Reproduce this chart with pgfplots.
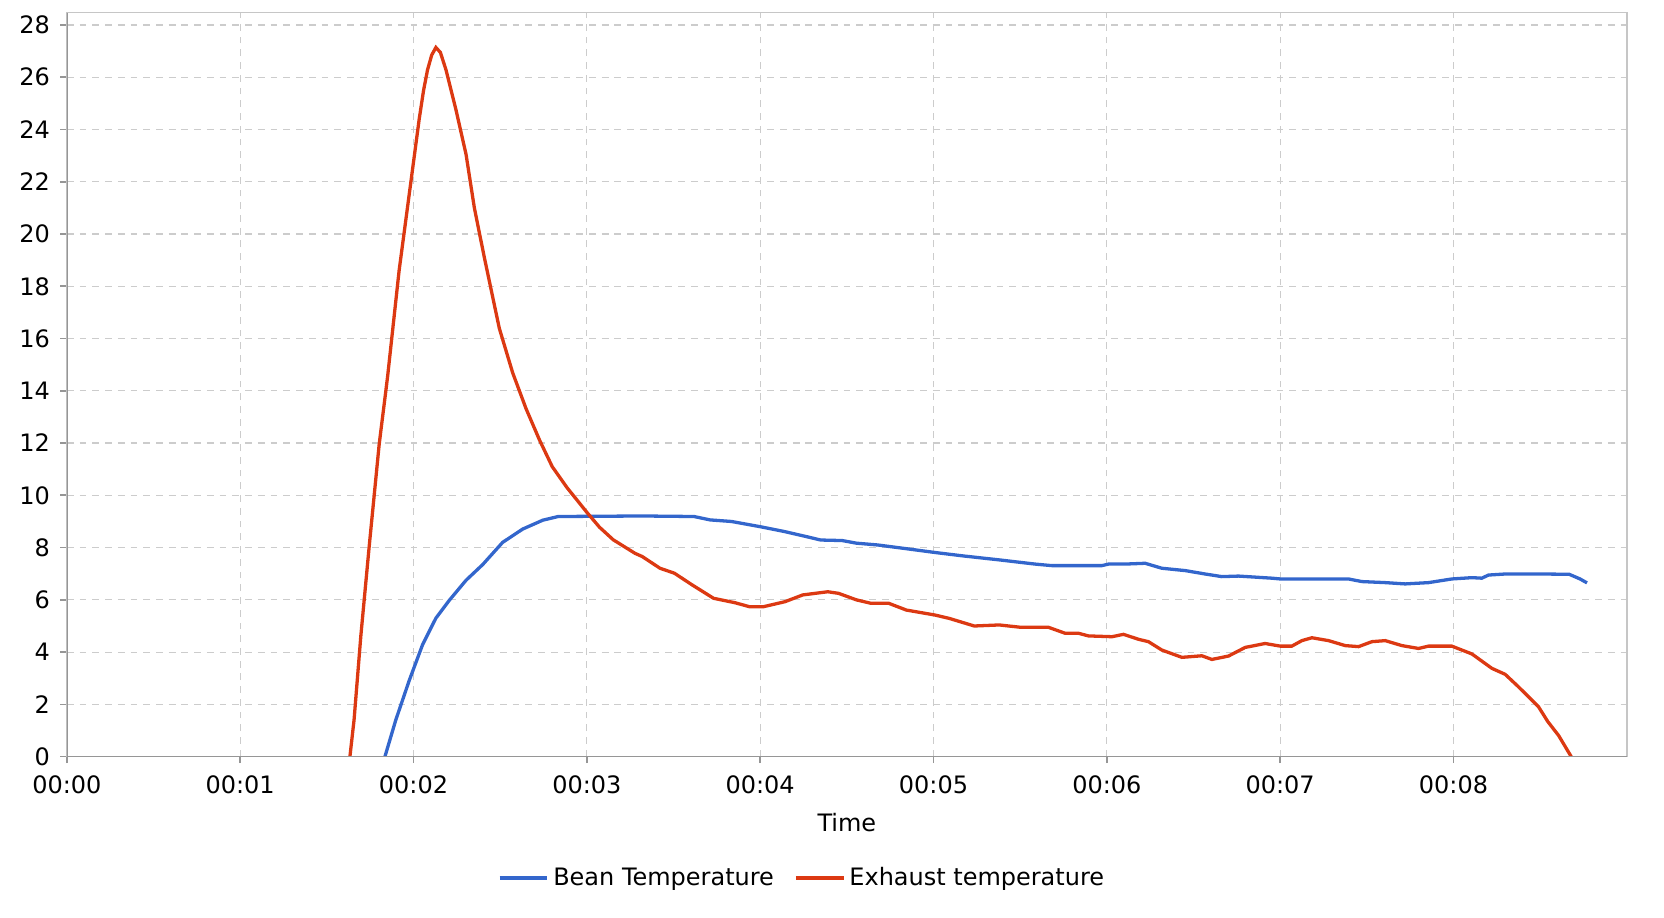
\documentclass[border=0pt]{standalone}
\usepackage{pgfplots}
\pgfplotsset{compat=1.18}
\usepackage{fontspec}
\setmainfont{DejaVu Sans}
\definecolor{beanblue}{RGB}{51,102,204}
\definecolor{exhred}{RGB}{220,57,18}
\definecolor{gridgray}{RGB}{204,204,204}
\definecolor{axgray}{RGB}{150,150,150}
\newcommand{\chartfont}{\fontsize{11.3pt}{13.6pt}\selectfont}
\begin{document}
\begin{tikzpicture}
\begin{axis}[
  at={(0,0)}, anchor=south west,
  scale only axis, width=735pt, height=350.5pt,
  xmin=0, xmax=9, ymin=0, ymax=28.47,
  xtick={0,1,2,3,4,5,6,7,8},
  xticklabels={00:00,00:01,00:02,00:03,00:04,00:05,00:06,00:07,00:08},
  ytick={0,2,4,6,8,10,12,14,16,18,20,22,24,26,28},
  /pgf/number format/assume math mode=true,
  tick label style={font=\chartfont, black},
  xticklabel style={yshift=-2.5pt},
  yticklabel style={xshift=-1.5pt},
  label style={font=\chartfont},
  xmajorgrids, ymajorgrids,
  major grid style={dash pattern=on 3.2pt off 2.8pt, draw=gridgray, line width=0.55pt},
  axis line style={draw=gray!45, line width=0.6pt},
  tick style={draw=axgray, line width=0.8pt},
  tick align=outside, major tick length=3pt,
  xtick pos=bottom, ytick pos=left,
  xlabel={Time},
  xlabel style={at={(axis description cs:0.5,-0.0884)}, anchor=center},
  legend style={at={(axis description cs:0.472,-0.163)}, anchor=center, draw=none,
    font=\chartfont, legend columns=2,
    /tikz/every even column/.append style={column sep=7.5pt}},
  legend cell align=left,
  legend image code/.code={\draw[#1] (0pt,0pt) -- (22.5pt,0pt);},
]
\addplot[beanblue, line width=1.55pt] coordinates {
(1.835,0) (1.898,1.41) (1.975,2.91) (2.052,4.28) (2.129,5.30) (2.206,5.98)
(2.303,6.75) (2.399,7.35) (2.514,8.20) (2.630,8.71) (2.746,9.05) (2.835,9.19)
(3.32,9.21) (3.618,9.19) (3.711,9.06) (3.834,9.0) (4.0,8.80) (4.143,8.61)
(4.267,8.42) (4.349,8.29) (4.473,8.27) (4.555,8.17) (4.679,8.10) (4.864,7.94)
(5.0,7.82) (5.173,7.68) (5.379,7.53) (5.585,7.37) (5.683,7.31) (5.971,7.31)
(6.01,7.37) (6.106,7.37) (6.221,7.40) (6.317,7.21) (6.452,7.12) (6.567,6.99)
(6.663,6.89) (6.76,6.91) (6.952,6.83) (7.0,6.80) (7.394,6.80) (7.471,6.70)
(7.606,6.66) (7.721,6.61) (7.856,6.66) (7.99,6.80) (8.106,6.85) (8.163,6.83)
(8.202,6.95) (8.298,6.99) (8.49,6.99) (8.667,6.98) (8.73,6.8) (8.77,6.65)
};
\addlegendentry{Bean Temperature}
\addplot[exhred, line width=1.55pt] coordinates {
(1.633,0) (1.657,1.41) (1.696,4.62) (1.744,8.03) (1.802,11.96) (1.850,14.52)
(1.917,18.61) (1.975,21.51) (2.033,24.41) (2.058,25.5) (2.081,26.29) (2.105,26.85)
(2.129,27.14) (2.155,26.95)
(2.187,26.29) (2.245,24.75) (2.303,23.05) (2.351,21.0) (2.408,19.12)
(2.495,16.39) (2.572,14.69) (2.649,13.32) (2.726,12.13) (2.80,11.1)
(2.885,10.3) (3.0,9.35) (3.073,8.78) (3.152,8.3) (3.278,7.78) (3.319,7.66)
(3.422,7.21) (3.505,7.02) (3.608,6.57) (3.731,6.06) (3.855,5.89) (3.937,5.74)
(4.02,5.74) (4.143,5.93) (4.246,6.19) (4.39,6.31) (4.452,6.25) (4.555,6.0)
(4.638,5.87) (4.741,5.87) (4.843,5.61) (5.008,5.42) (5.091,5.29) (5.235,5.0)
(5.379,5.04) (5.503,4.95) (5.606,4.95) (5.663,4.95) (5.76,4.72) (5.837,4.72)
(5.894,4.62) (6.029,4.59) (6.096,4.68) (6.183,4.49) (6.24,4.40) (6.317,4.08)
(6.433,3.80) (6.548,3.86) (6.606,3.72) (6.702,3.85) (6.798,4.18) (6.913,4.33)
(7.0,4.23) (7.067,4.23) (7.125,4.44) (7.183,4.55) (7.279,4.44) (7.375,4.25)
(7.452,4.21) (7.529,4.40) (7.606,4.44) (7.702,4.25) (7.798,4.14) (7.856,4.23)
(7.99,4.23) (8.106,3.93) (8.221,3.38) (8.298,3.15) (8.375,2.67) (8.49,1.91)
(8.544,1.34) (8.606,0.81) (8.679,0)
};
\addlegendentry{Exhaust temperature}
\draw[axgray, line width=1pt] (rel axis cs:0,1) -- (rel axis cs:0,0) -- (rel axis cs:1,0);
\end{axis}
\pgfresetboundingbox
\path (-31.5pt,-76pt) rectangle (752.5pt,356.5pt);
\end{tikzpicture}
\end{document}
